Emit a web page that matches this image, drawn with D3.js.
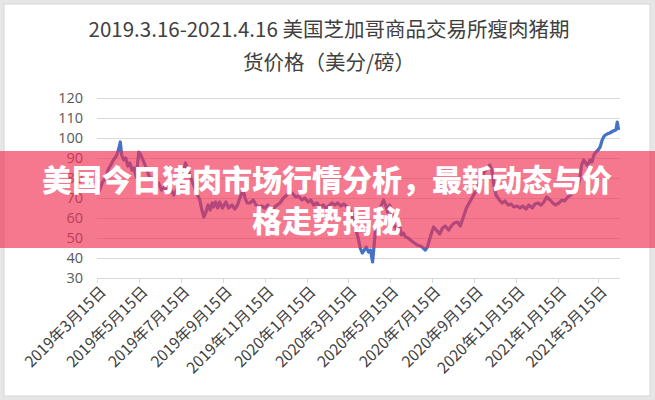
<!DOCTYPE html>
<html><head><meta charset="utf-8">
<script src="https://cdn.jsdelivr.net/npm/d3@7"></script>
<style>html,body{margin:0;padding:0;background:#e6e6e6;}svg{display:block;}</style>
</head><body><svg id="c" width="655" height="400"></svg>
<script>
const titleLines = ["2019.3.16-2021.4.16 美国芝加哥商品交易所瘦肉猪期", "货价格（美分/磅）"];
const bannerLines = ["美国今日猪肉市场行情分析，最新动态与价", "格走势揭秘"];
const yTicks = [30,40,50,60,70,80,90,100,110,120];
const xTickDates = ["2019-03-15","2019-05-15","2019-07-15","2019-09-15","2019-11-15","2020-01-15","2020-03-15","2020-05-15","2020-07-15","2020-09-15","2020-11-15","2021-01-15","2021-03-15"];
const xTickLabels = ["2019年3月15日","2019年5月15日","2019年7月15日","2019年9月15日","2019年11月15日","2020年1月15日","2020年3月15日","2020年5月15日","2020年7月15日","2020年9月15日","2020年11月15日","2021年1月15日","2021年3月15日"];
const dates = ["2019-03-15","2019-03-19","2019-03-23","2019-03-28","2019-03-31","2019-04-04","2019-04-08","2019-04-13","2019-04-16","2019-04-18","2019-04-20","2019-04-23","2019-04-26","2019-04-29","2019-05-02","2019-05-05","2019-05-08","2019-05-11","2019-05-13","2019-05-15","2019-05-18","2019-05-21","2019-05-24","2019-05-27","2019-05-30","2019-06-01","2019-06-04","2019-06-09","2019-06-13","2019-06-17","2019-06-22","2019-06-26","2019-07-01","2019-07-05","2019-07-09","2019-07-14","2019-07-18","2019-07-22","2019-07-25","2019-07-30","2019-08-03","2019-08-07","2019-08-12","2019-08-15","2019-08-18","2019-08-21","2019-08-24","2019-08-27","2019-08-30","2019-09-01","2019-09-04","2019-09-07","2019-09-10","2019-09-14","2019-09-19","2019-09-23","2019-09-28","2019-10-02","2019-10-06","2019-10-11","2019-10-14","2019-10-17","2019-10-20","2019-10-24","2019-10-29","2019-11-02","2019-11-06","2019-11-10","2019-11-15","2019-11-19","2019-11-25","2019-12-01","2019-12-07","2019-12-12","2019-12-17","2019-12-21","2019-12-26","2019-12-30","2020-01-03","2020-01-08","2020-01-12","2020-01-17","2020-01-21","2020-01-25","2020-01-30","2020-02-03","2020-02-08","2020-02-12","2020-02-16","2020-02-21","2020-02-25","2020-02-29","2020-03-05","2020-03-09","2020-03-14","2020-03-18","2020-03-21","2020-03-24","2020-03-27","2020-03-30","2020-04-02","2020-04-05","2020-04-08","2020-04-11","2020-04-14","2020-04-17","2020-04-20","2020-04-21","2020-04-24","2020-04-27","2020-04-30","2020-05-03","2020-05-06","2020-05-09","2020-05-12","2020-05-15","2020-05-18","2020-05-21","2020-05-24","2020-05-27","2020-05-30","2020-06-01","2020-06-04","2020-06-07","2020-06-11","2020-06-16","2020-06-20","2020-06-24","2020-06-29","2020-07-03","2020-07-06","2020-07-09","2020-07-12","2020-07-15","2020-07-18","2020-07-22","2020-07-27","2020-07-31","2020-08-04","2020-08-09","2020-08-13","2020-08-17","2020-08-22","2020-08-26","2020-08-30","2020-09-04","2020-09-08","2020-09-12","2020-09-17","2020-09-21","2020-09-25","2020-09-30","2020-10-04","2020-10-08","2020-10-11","2020-10-14","2020-10-17","2020-10-22","2020-10-26","2020-10-30","2020-11-04","2020-11-08","2020-11-12","2020-11-17","2020-11-21","2020-11-25","2020-11-30","2020-12-04","2020-12-09","2020-12-13","2020-12-17","2020-12-22","2020-12-26","2020-12-30","2021-01-04","2021-01-08","2021-01-12","2021-01-17","2021-01-21","2021-01-25","2021-01-30","2021-02-03","2021-02-07","2021-02-12","2021-02-16","2021-02-19","2021-02-22","2021-02-25","2021-02-28","2021-03-03","2021-03-06","2021-03-09","2021-03-12","2021-03-15","2021-03-18","2021-03-21","2021-03-24","2021-03-28","2021-04-01","2021-04-06","2021-04-10","2021-04-12","2021-04-14"];
const values = [71.5,74,78,80,84,86.5,89,91.5,95,98,91.5,89,90,86,87.5,84,85,80.5,86.5,93,91.5,89,86.5,84,81,79,80,76.5,77.5,74,75.5,73,74,71.5,74,76.5,81.5,87.5,85,80,76.5,73,69,64,60.5,63,66.5,64,67.5,65.5,68,65,68,65,68,65,66.5,64.5,66.5,71.5,74,70,67.5,67.5,69,66.5,65.5,66,65,66.5,64,66,67.5,70,71.5,73,72,70.5,71,69,70,68,69,66.5,67.5,65.5,66.5,65,66,67.5,66.5,67.5,66,67,65.5,64,62,58,54,50,45,42.5,44,45.5,43,44,38,41.5,53,59,63,66.5,69,66.5,63,66.5,64,56.5,55,54,55,51.5,52.5,50.5,50,48.5,47.5,46.5,46,45,44,45.5,49,52.5,55.5,54,52,55,56,54,56,57.5,58,56,60,65,67.5,70,73,76,79,83,85,86.5,84,76.5,71.5,69,67.5,68.5,66.5,67,65.5,66,65,66,64.5,66.5,65,67,67.5,66.5,68,70.5,69,67.5,66.5,67.5,69,68.5,70.5,71.5,73,75,79,86.5,89,87.5,86,89,88,91.5,93,94,95.5,99,101,102,102.5,103.5,104,108,104];

const svg = d3.select("#c");
const W = 655, H = 400;
svg.append("rect").attr("x",4).attr("y",4).attr("width",W-9).attr("height",H-8).attr("fill","#fff").attr("stroke","#d6d6d6").attr("stroke-width",1);

const parse = d3.timeParse("%Y-%m-%d");
const x = d3.scaleTime().domain([parse("2019-03-15"), parse("2021-04-16")]).range([97, 620]);
const y = d3.scaleLinear().domain([30,120]).range([278, 98]);

// title
const tt = svg.append("text").attr("text-anchor","middle").attr("fill","#404040")
  .style("font-family","'Noto Sans CJK SC', sans-serif").style("font-size","20.5px");
titleLines.forEach((t,i)=>tt.append("tspan").attr("x",329).attr("y",37 + i*33).text(t));

// gridlines
svg.append("g").selectAll("line").data(yTicks).join("line")
  .attr("x1",97).attr("x2",620).attr("y1",d=>y(d)+0.5).attr("y2",d=>y(d)+0.5)
  .attr("stroke","#d9d9d9").attr("stroke-width",1);

// y axis labels
svg.append("g").selectAll("text").data(yTicks).join("text")
  .attr("x",83).attr("y",d=>y(d)).attr("dy","0.36em").attr("text-anchor","end")
  .attr("fill","#595959").style("font-family","'Open Sans', 'Noto Sans', sans-serif").style("font-size","14.5px")
  .text(d=>d);

// x ticks
const xg = svg.append("g");
xg.selectAll("line").data(xTickDates).join("line")
  .attr("x1",d=>Math.round(x(parse(d)))+0.5).attr("x2",d=>Math.round(x(parse(d)))+0.5)
  .attr("y1",278).attr("y2",283).attr("stroke","#d9d9d9");
xg.selectAll("text").data(xTickDates).join("text")
  .attr("transform",d=>`translate(${x(parse(d))+6},${289}) rotate(-45)`)
  .attr("text-anchor","end").attr("dy","0.35em")
  .attr("fill","#404040").style("font-family","'Noto Sans CJK SC', sans-serif").style("font-size","15.5px")
  .text((d,i)=>xTickLabels[i]);

// line
const pts = dates.map((d,i)=>({d:parse(d), v:values[i]}));
svg.append("path").datum(pts)
  .attr("d", d3.line().x(p=>x(p.d)).y(p=>y(p.v)))
  .attr("fill","none").attr("stroke","#4472C4").attr("stroke-width",3.2).attr("stroke-linejoin","round");

// banner overlay
svg.append("rect").attr("x",0).attr("y",151).attr("width",W).attr("height",97)
  .attr("fill","rgb(240,48,83)").attr("fill-opacity",0.65);
const bt = svg.append("text").attr("text-anchor","middle").attr("fill","#fff")
  .style("font-family","'Noto Sans CJK SC', sans-serif").style("font-size","30px").style("font-weight","900");
bannerLines.forEach((t,i)=>bt.append("tspan").attr("x",327).attr("y",191 + i*41).text(t));
</script></body></html>
